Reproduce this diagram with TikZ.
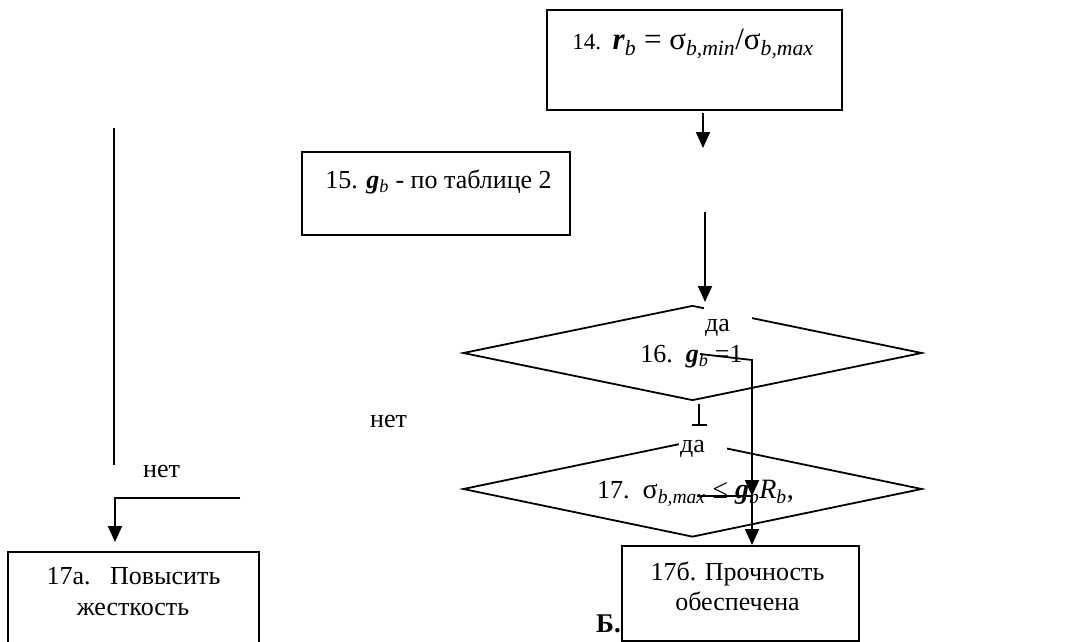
\documentclass[tikz,border=0pt]{standalone}
\usepackage{fontspec}
\setmainfont{Liberation Serif}
\usetikzlibrary{arrows.meta,shapes.geometric}
\tikzset{
  box/.style={draw, line width=1.9pt, fill=white, inner sep=0pt},
  ln/.style={line width=1.8pt},
  arr/.style={line width=1.8pt, -{Triangle[width=14pt,length=16pt]}},
  txt/.style={inner sep=0pt, font=\fontsize{26}{30}\selectfont},
  dalbl/.style={fill=white, inner xsep=1pt, inner ysep=2pt, text width=46pt, align=left,
    text height=24pt, text depth=6pt, font=\fontsize{26}{30}\selectfont}
}
\newcommand{\gb}{\textbf{\textit{g}}\textsubscript{\textit{b}}}
\begin{document}
\begin{tikzpicture}[x=1pt,y=-1pt]
\useasboundingbox (0,0) rectangle (1081,642);
\clip (0,0) rectangle (1081,642);

% boxes
\node[box, minimum width=295pt, minimum height=100pt] (b14) at (694.5,60) {};
\node[txt, anchor=base] (t14) at (693,49) {\fontsize{23}{26}\selectfont 14.\ \ \fontsize{31}{34}\selectfont\textbf{\textit{r}}\textsubscript{\textit{b}} = σ\textsubscript{\textit{b,min}}/σ\textsubscript{\textit{b,max}}};

\node[box, minimum width=268pt, minimum height=83pt] (b15) at (436,193.5) {};
\node[txt, anchor=base] (t15) at (438.5,188) {15. \gb{} - по таблице 2};

% diamonds
\node[diamond, draw, ln, minimum width=459pt, minimum height=95pt, inner sep=0pt] (d16) at (692.5,353) {};
\node[diamond, draw, ln, minimum width=459pt, minimum height=96pt, inner sep=0pt] (d17) at (692.5,489) {};

\node[dalbl, anchor=base west] (da16) at (704,331) {да};
\node[dalbl, text height=16pt, anchor=base west] (da17) at (679,452) {да};

\node[txt, anchor=base] (t16) at (691.5,362) {16.\ \ \gb{} =1};
\node[txt, anchor=base] (t17) at (695.5,498) {17.\ \ {\fontsize{28}{30}\selectfont σ\textsubscript{\textit{b,max}} ≤ \gb\textit{R}\textsubscript{\textit{b}},}};

% labels
\node[txt, anchor=base west] (net1) at (143,477) {нет};
\node[txt, anchor=base west] (net2) at (370,427) {нет};

% bottom boxes
\node[txt, font=\bfseries\fontsize{27}{30}\selectfont, anchor=base west] (bB) at (596,632) {Б.};
\node[box, minimum width=251pt, minimum height=110pt, anchor=north west] (b17a) at (7,551) {};
\node[txt, anchor=base] (t17a1) at (133.5,584) {17а.\ \ \ Повысить};
\node[txt, anchor=base] (t17a2) at (133,615) {жесткость};

\node[box, minimum width=237pt, minimum height=95pt, anchor=north west] (b17b) at (621,545) {};
\node[txt, anchor=base] (t17b1) at (737.5,580) {17б. Прочность};
\node[txt, anchor=base] (t17b2) at (737.5,610) {обеспечена};

% connectors
\coordinate (c14a) at (703,113);
\coordinate (c14b) at (703,148);
\draw[arr] (c14a) -- (c14b);

\coordinate (c16a) at (705,212);
\coordinate (c16b) at (705,302);
\draw[arr] (c16a) -- (c16b);

\coordinate (p1) at (700,354);
\coordinate (p2) at (752,360);
\coordinate (p3) at (752,496);
\draw[arr] (p1) -- (p2) -- (p3);

\coordinate (q1) at (697,496);
\draw[arr] (q1) -- (p3) -- (p3 |- b17b.north);

\coordinate (u1) at (699,404);
\coordinate (u2) at (699,425);
\coordinate (u3) at (692,425);
\coordinate (u4) at (707,425);
\draw[ln] (u1) -- (u2);
\draw[ln] (u3) -- (u4);

\coordinate (L1) at (114,128);
\coordinate (L2) at (114,465);
\draw[ln] (L1) -- (L2);

\coordinate (A1) at (240,498);
\coordinate (A2) at (115,542);
\draw[arr] (A1) -| (A2);
\end{tikzpicture}
\end{document}
